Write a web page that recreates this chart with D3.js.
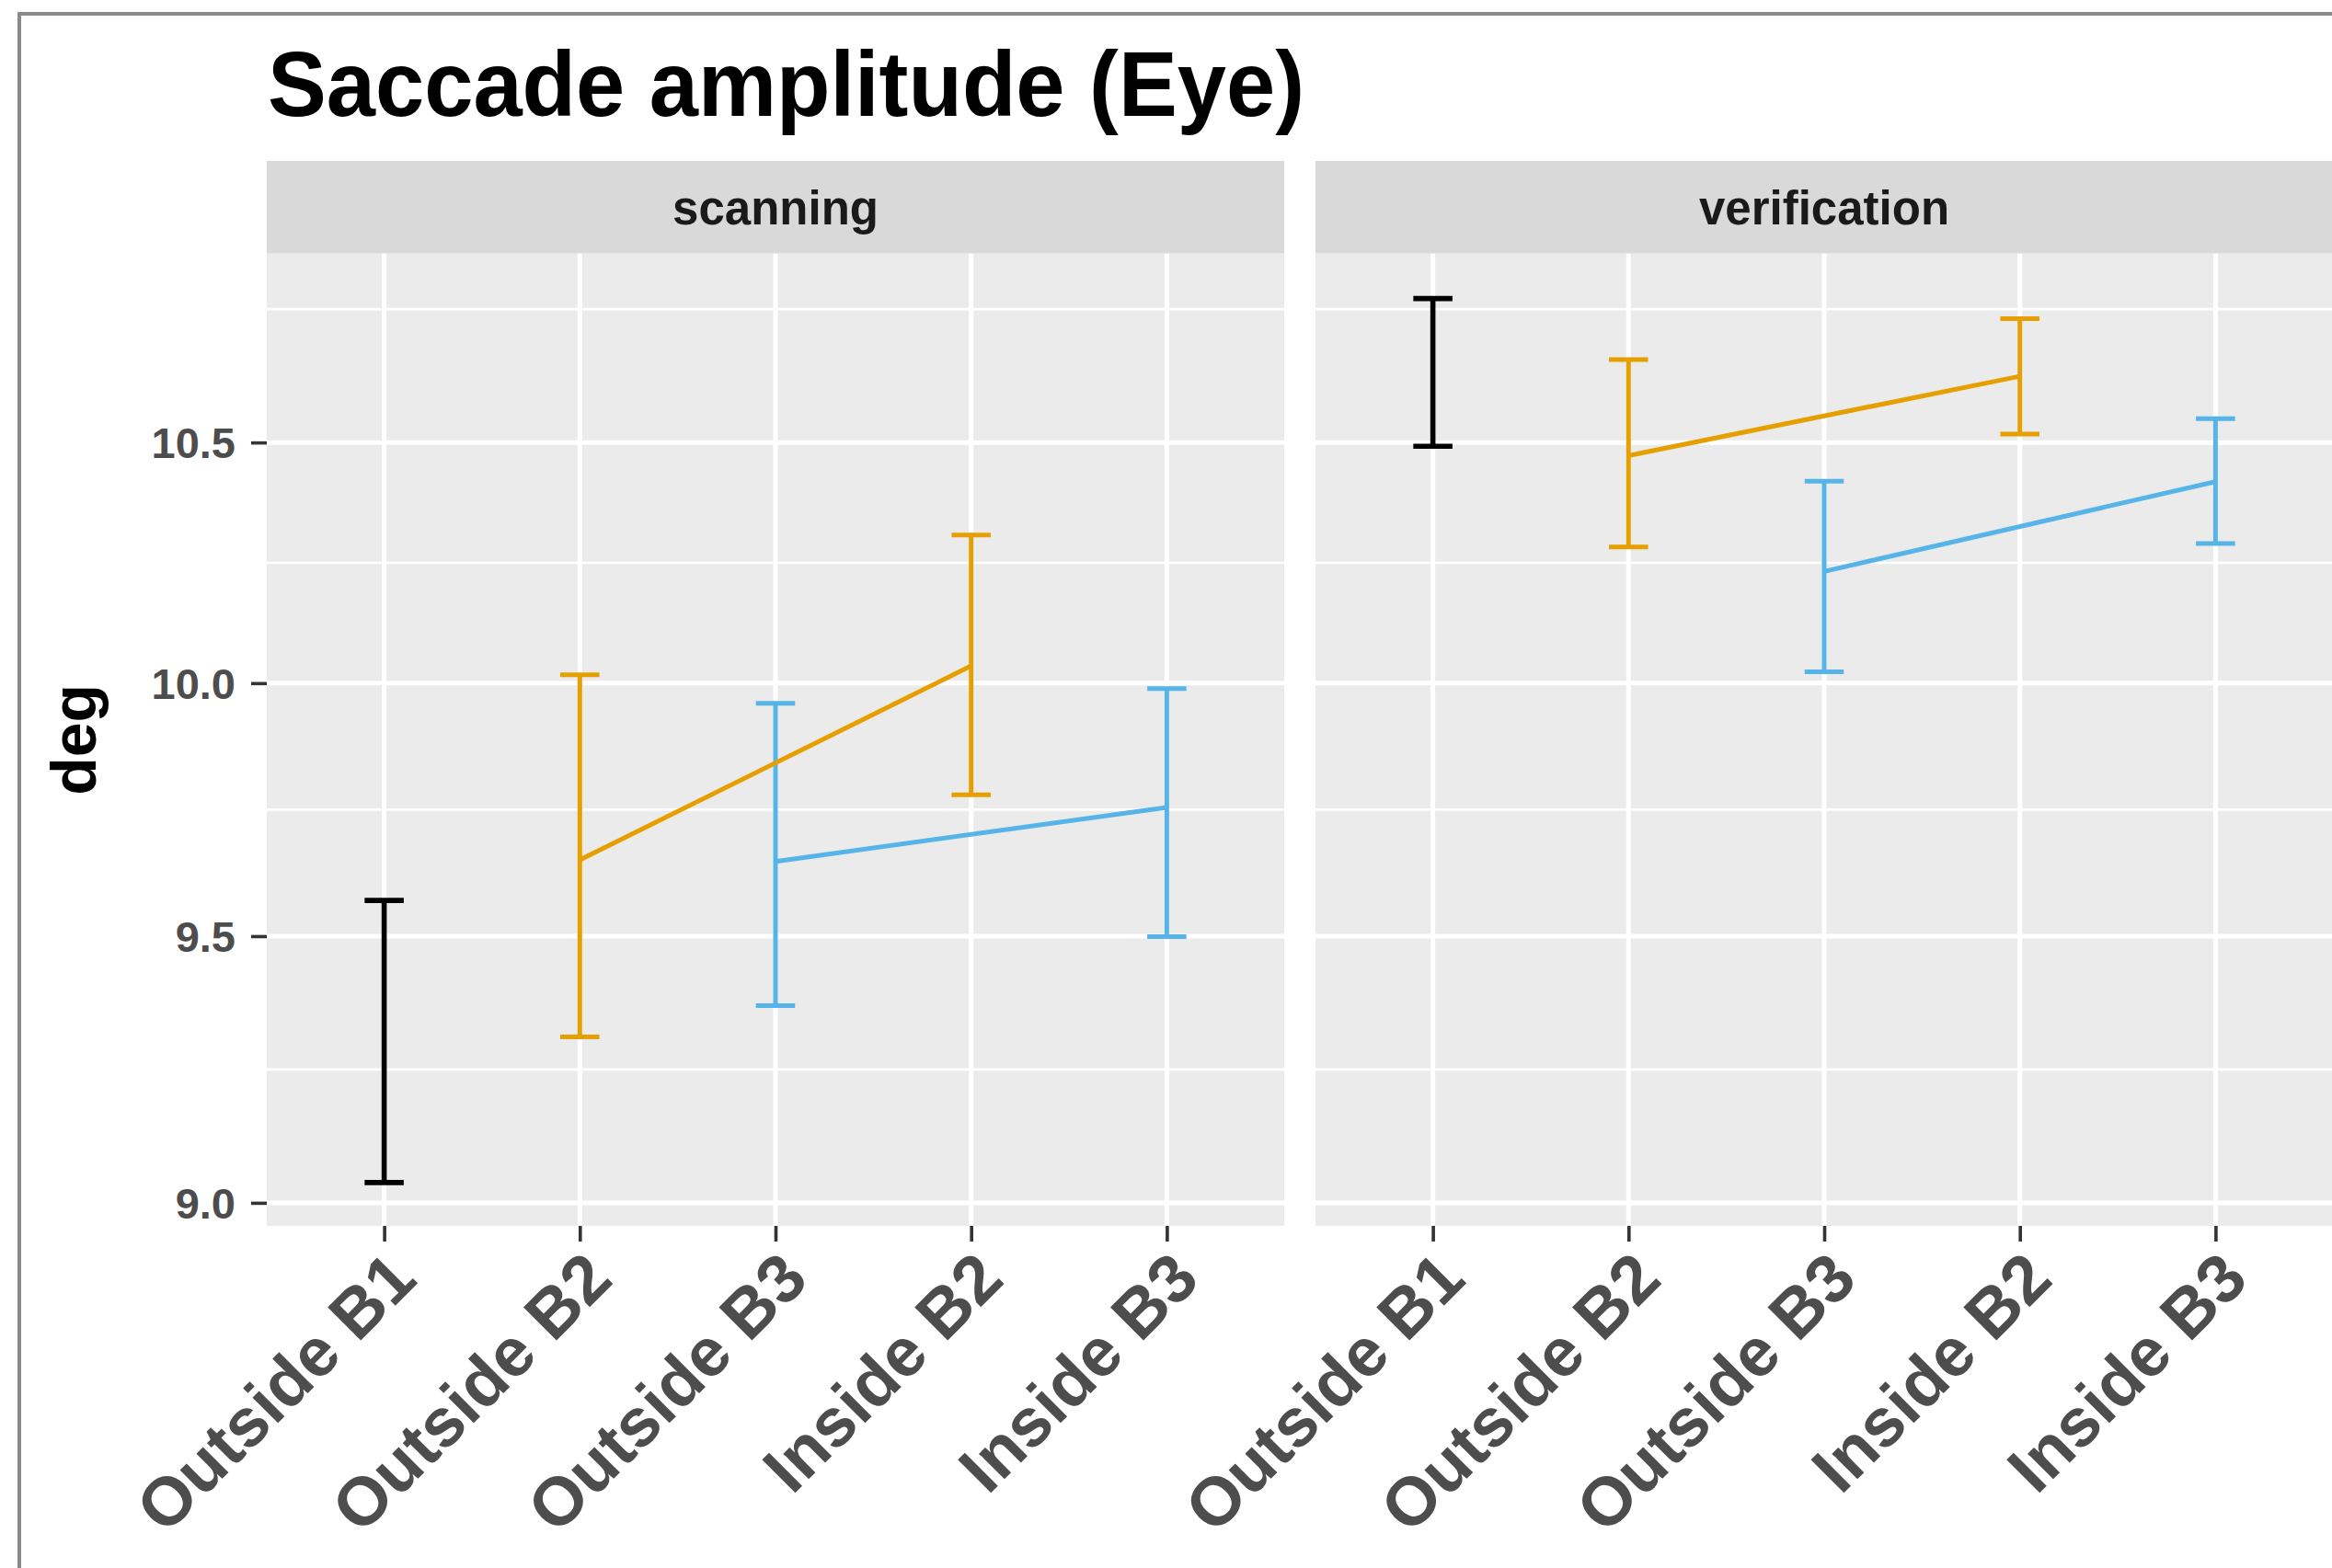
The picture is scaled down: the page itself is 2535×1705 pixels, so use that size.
<!DOCTYPE html>
<html>
<head>
<meta charset="utf-8">
<script src="https://cdn.jsdelivr.net/npm/d3@7"></script>
<style>
  html, body { margin: 0; padding: 0; background: #ffffff; }
  svg { display: block; }
  text { font-family: "Liberation Sans", Arial, Helvetica, sans-serif; }
</style>
</head>
<body>
<svg id="chart" width="2535" height="1705"></svg>
<script>
// ---------------- data ----------------
const titleText = "Saccade amplitude (Eye)";
const yLabel = "deg";
const facets = ["scanning", "verification"];
const categories = ["Outside B1", "Outside B2", "Outside B3", "Inside B2", "Inside B3"];
const categoryGroup = ["B1", "B2", "B3", "B2", "B3"];
const groups = ["B1", "B2", "B3"];
const groupColors = ["#000000", "#E69F00", "#56B4E9"];

// scanning facet
const scanMean  = [9.30, 9.648, 9.645, 10.035, 9.751];
const scanLower = [9.037, 9.308, 9.367, 9.776, 9.499];
const scanUpper = [9.569, 10.017, 9.959, 10.305, 9.989];
// verification facet
const verMean  = [10.65, 10.472, 10.229, 10.642, 10.417];
const verLower = [10.492, 10.280, 10.023, 10.518, 10.287];
const verUpper = [10.811, 10.678, 10.418, 10.767, 10.551];

const yTicks = [9.0, 9.5, 10.0, 10.5];
const yDomain = [8.958, 10.91];

// ---------------- layout ----------------
const svg = d3.select("#chart");
const W = 2535, H = 1705;
const panelTop = 275.7, panelBottom = 1333;
const panelLeft0 = 290, panelWidth = 1106, panelGap = 34;
const stripTop = 175;

// outer frame
svg.append("rect").attr("x", 21).attr("y", 15).attr("width", W + 50).attr("height", H + 50)
  .attr("fill", "none").attr("stroke", "#8a8a8a").attr("stroke-width", 4);

const y = d3.scaleLog().domain(yDomain).range([panelBottom, panelTop]);
const color = d3.scaleOrdinal().domain(groups).range(groupColors);

// minor breaks: midpoints (in log space) between majors, extended one step
const lt = yTicks.map(v => Math.log10(v));
const step0 = lt[1] - lt[0];
const ext = [lt[0] - step0, ...lt, lt[lt.length - 1] + step0];
const yMinor = [];
for (let i = 0; i < ext.length - 1; i++) {
  const m = Math.pow(10, (ext[i] + ext[i + 1]) / 2);
  if (m >= yDomain[0] && m <= yDomain[1]) yMinor.push(m);
}

const facetData = [
  { name: facets[0], mean: scanMean, lower: scanLower, upper: scanUpper },
  { name: facets[1], mean: verMean, lower: verLower, upper: verUpper }
];

facetData.forEach((f, fi) => {
  const left = panelLeft0 + fi * (panelWidth + panelGap);
  const right = left + panelWidth;
  const x = d3.scalePoint().domain(categories).range([left, right]).padding(0.6);
  const step = x.step();
  const g = svg.append("g");

  // strip
  g.append("rect").attr("x", left).attr("y", stripTop).attr("width", panelWidth)
    .attr("height", panelTop - stripTop).attr("fill", "#d9d9d9");
  g.append("text").attr("x", (left + right) / 2).attr("y", (stripTop + panelTop) / 2 + 1)
    .attr("text-anchor", "middle").attr("dominant-baseline", "central")
    .attr("font-size", 51).attr("font-weight", "bold").attr("fill", "#1a1a1a")
    .text(f.name);

  // panel background
  g.append("rect").attr("x", left).attr("y", panelTop).attr("width", panelWidth)
    .attr("height", panelBottom - panelTop).attr("fill", "#ebebeb");

  // grid
  g.selectAll(".minor").data(yMinor).enter().append("line")
    .attr("x1", left).attr("x2", right).attr("y1", d => y(d)).attr("y2", d => y(d))
    .attr("stroke", "#ffffff").attr("stroke-width", 2.6);
  g.selectAll(".major").data(yTicks).enter().append("line")
    .attr("x1", left).attr("x2", right).attr("y1", d => y(d)).attr("y2", d => y(d))
    .attr("stroke", "#ffffff").attr("stroke-width", 5);
  g.selectAll(".vmajor").data(categories).enter().append("line")
    .attr("x1", d => x(d)).attr("x2", d => x(d)).attr("y1", panelTop).attr("y2", panelBottom)
    .attr("stroke", "#ffffff").attr("stroke-width", 5);

  const pts = categories.map((c, i) => ({
    cat: c, group: categoryGroup[i], mean: f.mean[i], lo: f.lower[i], hi: f.upper[i]
  }));

  // error bars
  const capHalf = step * 0.1;
  pts.forEach(p => {
    const sw = p.group === "B1" ? 5.6 : 5;
    const col = color(p.group);
    const cx = x(p.cat);
    g.append("line").attr("x1", cx).attr("x2", cx).attr("y1", y(p.lo)).attr("y2", y(p.hi))
      .attr("stroke", col).attr("stroke-width", sw);
    g.append("line").attr("x1", cx - capHalf).attr("x2", cx + capHalf).attr("y1", y(p.hi)).attr("y2", y(p.hi))
      .attr("stroke", col).attr("stroke-width", sw);
    g.append("line").attr("x1", cx - capHalf).attr("x2", cx + capHalf).attr("y1", y(p.lo)).attr("y2", y(p.lo))
      .attr("stroke", col).attr("stroke-width", sw);
  });

  // lines connecting means within group
  const line = d3.line().x(d => x(d.cat)).y(d => y(d.mean));
  groups.forEach(gr => {
    const gp = pts.filter(p => p.group === gr);
    if (gp.length > 1) {
      g.append("path").attr("d", line(gp)).attr("fill", "none")
        .attr("stroke", color(gr)).attr("stroke-width", 5);
    }
  });

  // x axis
  const xAxis = d3.axisBottom(x).tickSize(17).tickFormat("");
  const xa = g.append("g").attr("transform", `translate(0,${panelBottom})`).call(xAxis);
  xa.select(".domain").remove();
  xa.selectAll(".tick line").attr("stroke", "#333333").attr("stroke-width", 3.6);

  g.selectAll(".xlab").data(categories).enter().append("text")
    .attr("text-anchor", "end")
    .attr("transform", d => `translate(${x(d) + 38},${panelBottom + 61}) rotate(-45)`)
    .attr("font-size", 74).attr("font-weight", "bold").attr("fill", "#4d4d4d")
    .text(d => d);

  // y axis only on first panel
  if (fi === 0) {
    const yAxis = d3.axisLeft(y).tickValues(yTicks).tickSize(17).tickFormat(d3.format(".1f"));
    const ya = g.append("g").attr("transform", `translate(${left},0)`).call(yAxis);
    ya.select(".domain").remove();
    ya.selectAll(".tick line").attr("stroke", "#333333").attr("stroke-width", 3.6);
    ya.selectAll(".tick text").attr("x", -34).attr("dy", "0.35em")
      .attr("font-size", 47).attr("font-weight", "bold").attr("fill", "#4d4d4d")
      .attr("font-family", "'Liberation Sans', Arial, sans-serif");
  }
});

// y axis title
svg.append("text").attr("transform", `translate(104,${(panelTop + panelBottom) / 2}) rotate(-90)`)
  .attr("text-anchor", "middle").attr("font-size", 68).attr("font-weight", "bold").attr("fill", "#000000")
  .text(yLabel);

// title
svg.append("text").attr("x", 291).attr("y", 126)
  .attr("font-size", 101).attr("font-weight", "bold").attr("fill", "#000000")
  .attr("textLength", 1127).attr("lengthAdjust", "spacingAndGlyphs")
  .text(titleText);
</script>
</body>
</html>
